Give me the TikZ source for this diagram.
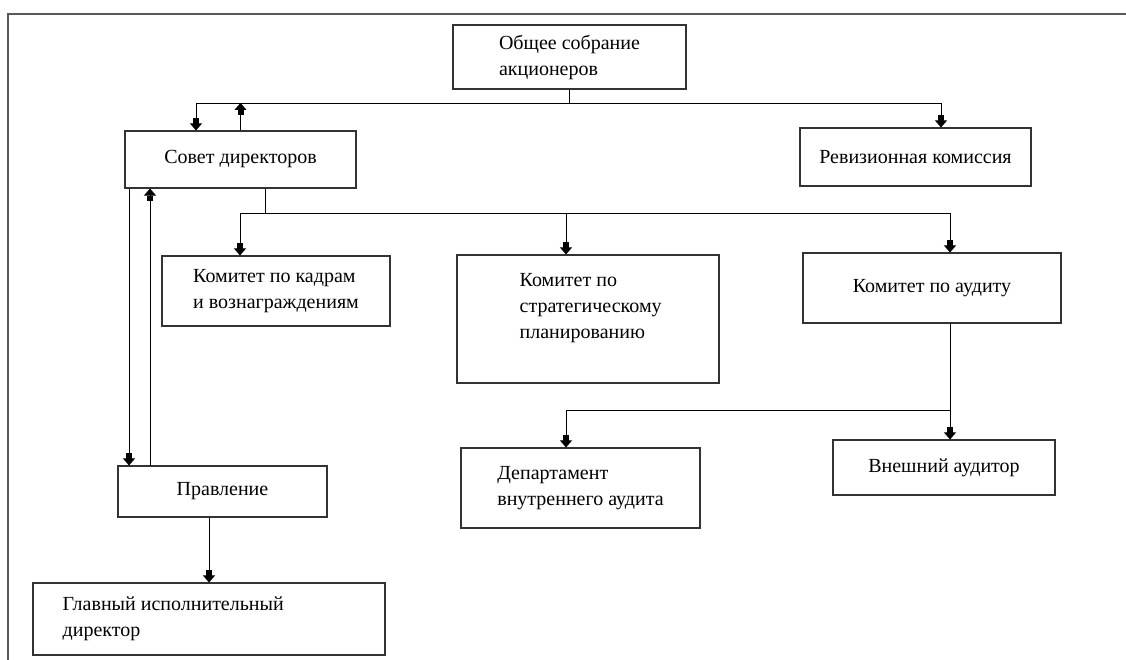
\documentclass[tikz,border=0pt]{standalone}
\usepackage{fontspec}
\setmainfont{Liberation Serif}
\usetikzlibrary{arrows.meta, positioning}

\begin{document}
\begin{tikzpicture}[x=1pt, y=-1pt,
  >={Rectangle[width=6pt,length=5pt,sep=0pt] Triangle[width=12pt,length=7pt]},
  box/.style={draw=black!80, line width=1.1pt, align=left, inner sep=0pt,
    font=\fontsize{20}{26}\selectfont},
  txt/.style={align=left, inner sep=0pt, font=\fontsize{20}{26}\selectfont},
  link/.style={line width=0.9pt}]

  \useasboundingbox (0,0) rectangle (1126,660);

  % Рамка
  \draw[black!65, line width=1.2pt] (8,660) -- (8,14) -- (1126,14);

  % Блоки
  \node[box, minimum width=233, minimum height=64] (oso) at (569.5,57) {Общее собрание\\акционеров};
  \node[box, minimum width=231, minimum height=57] (sd) at (240.5,159.5) {Совет директоров};
  \node[box, minimum width=231, minimum height=58] (rk) at (915.5,157) {Ревизионная комиссия};
  \node[box, minimum width=228, minimum height=70] (kk) at (276,291) {Комитет по кадрам\\и вознаграждениям};
  \node[box, minimum width=262, minimum height=128,
    label={[txt, anchor=north west, xshift=63pt, yshift=-19pt]north west:{Комитет по\\стратегическому\\планированию}}] (ksp) at (588,319) {};
  \node[box, minimum width=258, minimum height=70] (ka) at (932,288) {Комитет по аудиту};
  \node[box, minimum width=239, minimum height=80] (dva) at (580.5,488) {Департамент\\внутреннего аудита};
  \node[box, minimum width=222, minimum height=55] (va) at (944,467.5) {Внешний аудитор};
  \node[box, minimum width=209, minimum height=51] (pr) at (222.5,491.5) {Правление};
  \node[box, minimum width=352, minimum height=72,
    label={[txt, anchor=west, xshift=30pt]west:{Главный исполнительный\\директор}}] (gid) at (209,619) {};

  % Точки изломов
  \coordinate (b1) at (196,103);
  \coordinate (b2) at (941,103);
  \coordinate (h2) at (265,213);
  \coordinate (c1) at (240,213);
  \coordinate (c2) at (566,213);
  \coordinate (c3) at (950,213);
  \coordinate (e1) at (566,410);
  \coordinate (d1) at (129,0);
  \coordinate (d2) at (150,0);

  % Связи
  \draw[->, link] (oso.south) |- (b1) -- (b1 |- sd.north);
  \draw[->, link] (oso.south) |- (b2) -- (b2 |- rk.north);
  \draw[->, link] (sd.north) -- (sd.north |- b1);

  \draw[link] (h2 |- sd.south) -- (h2);
  \draw[->, link] (h2) -| (c1 |- kk.north);
  \draw[->, link] (h2) -| (c2 |- ksp.north);
  \draw[->, link] (h2) -| (c3 |- ka.north);

  \draw[->, link] (c3 |- ka.south) -- (c3 |- va.north);
  \draw[->, link] (c3 |- e1) -| (e1 |- dva.north);

  \draw[->, link] (d1 |- sd.south) -- (d1 |- pr.north);
  \draw[->, link] (d2 |- pr.north) -- (d2 |- sd.south);
  \draw[->, link] (pr.south -| gid.north) -- (gid.north);

\end{tikzpicture}
\end{document}
